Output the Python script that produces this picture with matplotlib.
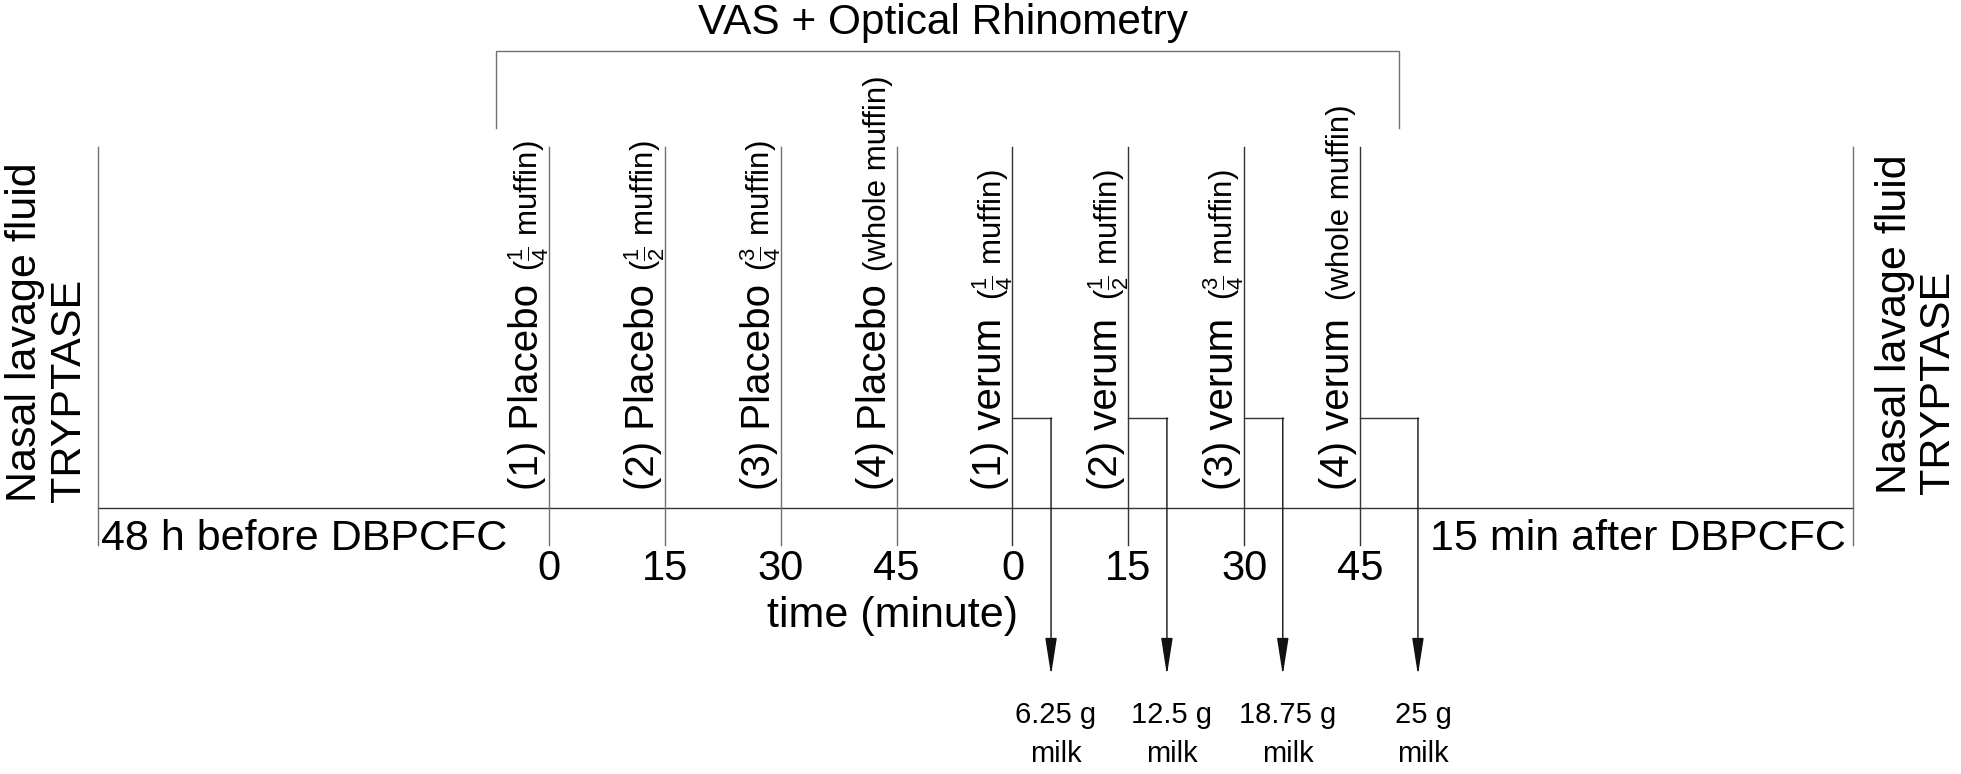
import matplotlib
matplotlib.use("Agg")
import matplotlib.pyplot as plt
from matplotlib.transforms import offset_copy

plt.rcParams["font.family"] = ["Liberation Sans", "DejaVu Sans"]
plt.rcParams["mathtext.fontset"] = "custom"
plt.rcParams["mathtext.rm"] = "Liberation Sans"
plt.rcParams["mathtext.it"] = "Liberation Sans"

# --- data ---
placebo_times = [0, 15, 30, 45]
verum_times = [0, 15, 30, 45]
verum_start = 60                      # verum block follows placebo block on one time line
dose_labels = ["$\\frac{1}{4}$ muffin", "$\\frac{1}{2}$ muffin",
               "$\\frac{3}{4}$ muffin", "whole muffin"]
milk_doses = ["6.25 g", "12.5 g", "18.75 g", "25 g"]
milk_delay = [5, 5, 5, 7.5]           # minutes after verum dose where the arrow drops
tick_labels = ["0", "15", "30", "45", "0", "15", "30", "45"]
before_label = "48 h before DBPCFC"
after_label = "15 min after DBPCFC"
side_label = ["Nasal lavage fluid", "TRYPTASE"]

# --- layout (time axis in minutes, y axis in pixels from top) ---
PX_PER_MIN = 7.724
ORIGIN_PX = 549
W, H = 1961, 774
t_left, t_right = -58.4, 168.8       # outer boundaries
t_br0, t_br1 = -6.9, 110.0           # bracket

fig = plt.figure(figsize=(W / 100, H / 100), dpi=100)
ax = fig.add_axes([0, 0, 1, 1])
ax.set_xlim(-ORIGIN_PX / PX_PER_MIN, (W - ORIGIN_PX) / PX_PER_MIN)
ax.set_ylim(H, 0)
ax.axis("off")

light = "#707070"
dark = "#333333"
lw = 1.0

Y_BASE = 508
Y_TOP = 147
Y_TICK = 545

# baseline + boundaries
ax.plot([t_left, t_right], [Y_BASE, Y_BASE], color=dark, lw=lw)
ax.plot([t_left, t_left], [Y_TOP, Y_TICK], color=light, lw=lw)
ax.plot([t_right, t_right], [Y_TOP, Y_TICK], color=light, lw=lw)

# bracket
ax.plot([t_br0, t_br0, t_br1, t_br1], [128, 51, 51, 128], color=light, lw=lw)
ax.text((t_br0 + t_br1) / 2 - 0.6, 34, "VAS + Optical Rhinometry", ha="center",
        va="baseline", fontsize=30.5)

# side labels
def side(tx, dx_px, y0, sep):
    tr = offset_copy(ax.transData, fig=fig, x=dx_px, y=0, units="dots")
    ax.text(tx, y0, side_label[0], rotation=90, rotation_mode="anchor",
            ha="left", va="baseline", fontsize=31, transform=tr)
    tr2 = offset_copy(ax.transData, fig=fig, x=dx_px + sep, y=0, units="dots")
    ax.text(tx, y0, side_label[1], rotation=90, rotation_mode="anchor",
            ha="left", va="baseline", fontsize=31, transform=tr2)

side(t_left, -62, 502, 44)
side(t_right, 53, 494, 43)

tr_b = offset_copy(ax.transData, fig=fig, x=3, y=0, units="dots")
ax.text(t_left, 550, before_label, ha="left", va="baseline", fontsize=31,
        transform=tr_b)
tr_a = offset_copy(ax.transData, fig=fig, x=-7, y=0, units="dots")
ax.text(t_right, 550, after_label, ha="right", va="baseline", fontsize=31,
        transform=tr_a)

all_times = placebo_times + [verum_start + t for t in verum_times]
groups = ["Placebo"] * 4 + ["verum"] * 4
fig.canvas.draw()
for i, t in enumerate(all_times):
    col = light if i < 4 else dark
    ax.plot([t, t], [Y_TOP, Y_TICK], color=col, lw=lw)
    ax.text(t, 580, tick_labels[i], ha="center", va="baseline", fontsize=30)
    tr = offset_copy(ax.transData, fig=fig, x=-11, y=0, units="dots")
    big = ax.text(t, 490, "(%d) %s" % (i % 4 + 1, groups[i]), rotation=90,
                  rotation_mode="anchor", ha="left", va="baseline",
                  fontsize=29, transform=tr)
    gap = 13 if i < 4 else 18
    ax.annotate("(" + dose_labels[i % 4] + ")", xy=(t, 1.0),
                xycoords=(tr, big), xytext=(0, gap), textcoords="offset pixels",
                rotation=90, rotation_mode="anchor", ha="left", va="baseline",
                fontsize=22.5)

ax.text(44.5, 627, "time (minute)", ha="center", va="baseline", fontsize=31)

# milk arrows
for j, t in enumerate(verum_times):
    tv = verum_start + t
    ta = tv + milk_delay[j]
    ax.plot([tv, ta], [418, 418], color=dark, lw=lw)
    ax.annotate("", xy=(ta, 675), xytext=(ta, 418),
                arrowprops=dict(arrowstyle="-|>,head_length=2.3,head_width=0.36",
                                color="#111111", lw=lw, shrinkA=0, shrinkB=0))
    tr = offset_copy(ax.transData, fig=fig, x=5, y=0, units="dots")
    ax.text(ta, 723, milk_doses[j], ha="center", va="baseline", fontsize=21,
            transform=tr)
    ax.text(ta, 762, "milk", ha="center", va="baseline", fontsize=21,
            transform=tr)

fig.savefig("out.png", dpi=100)
